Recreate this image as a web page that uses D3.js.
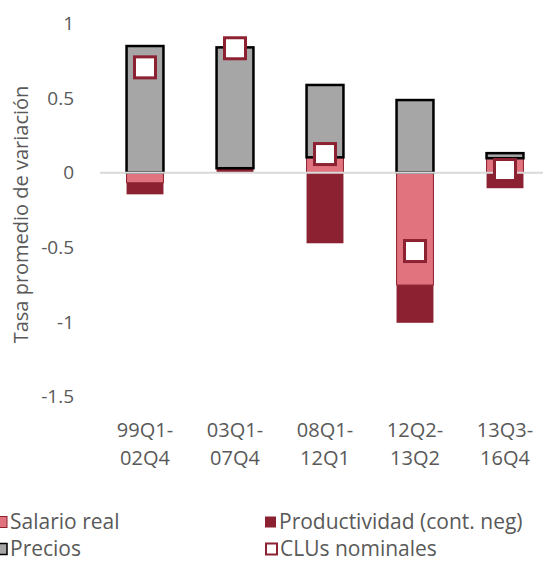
<!DOCTYPE html>
<html><head><meta charset="utf-8">
<script src="https://cdn.jsdelivr.net/npm/d3@7"></script>
<style>body{margin:0;background:#fff}svg{display:block}text{font-family:"Open Sans","Noto Sans",sans-serif;fill:#595959}</style>
</head><body><svg id="c" width="543" height="568"></svg>
<script>
const categories = [["99Q1-","02Q4"],["03Q1-","07Q4"],["08Q1-","12Q1"],["12Q2-","13Q2"],["13Q3-","16Q4"]];
const salarioReal = [-0.067, 0.0, 0.103, -0.753, 0.097];
const productividad = [-0.078, 0.03, -0.473, -0.253, -0.104];
const precios = [0.849, 0.81, 0.485, 0.487, 0.034];
const clusNominales = [0.706, 0.834, 0.125, -0.525, 0.018];
const yTicks = [1, 0.5, 0, -0.5, -1, -1.5];
const yTitle = "Tasa promedio de variación";
const legendItems = ["Salario real", "Productividad (cont. neg)", "Precios", "CLUs nominales"];

const C = {pink:"#E0737D", dark:"#8C2231", grey:"#A6A6A6"};
const svg = d3.select("#c");
const keys = ["salario","productividad","precios"];
const rows = categories.map((c,i)=>({cat:c.join(""), salario:salarioReal[i], productividad:productividad[i], precios:precios[i]}));
const x = d3.scaleBand().domain(rows.map(r=>r.cat)).range([100,550]).paddingInner(0.59).paddingOuter(0.295);
const y = d3.scaleLinear().domain([-1.5,1]).range([396.5,23.5]);
const stack = d3.stack().keys(keys).offset(d3.stackOffsetDiverging)(rows);

// y tick labels
svg.append("g").selectAll("text").data(yTicks).join("text")
  .attr("x",74).attr("y",d=>y(d)).attr("dy","0.35em").attr("text-anchor","end")
  .style("font-size","19px").text(d=>d);
// y title
svg.append("text").attr("transform",`translate(21,${y(-0.28)}) rotate(-90)`)
  .attr("text-anchor","middle").attr("dy","0.35em").style("font-size","20px").text(yTitle);

const style = {
  salario:{fill:C.pink, stroke:C.dark, sw:1},
  productividad:{fill:C.dark, stroke:"none", sw:0},
  precios:{fill:C.grey, stroke:"#000", sw:2.5}
};
const order = ["productividad","salario","precios"];
order.forEach(k=>{
  const s = stack.find(d=>d.key===k);
  svg.append("g").selectAll("rect").data(s.filter(d=>Math.abs(d[1]-d[0])>1e-9)).join("rect")
    .attr("x",d=>x(d.data.cat)).attr("width",x.bandwidth())
    .attr("y",d=>y(d[1])).attr("height",d=>y(d[0])-y(d[1]))
    .attr("fill",style[k].fill).attr("stroke",style[k].stroke).attr("stroke-width",style[k].sw);
});
// zero line
svg.append("line").attr("x1",100).attr("x2",543).attr("y1",y(0)).attr("y2",y(0))
  .attr("stroke","#D9D9D9").attr("stroke-width",2);
// CLU markers
const sz = 21;
svg.append("g").selectAll("rect").data(clusNominales).join("rect")
  .attr("x",(d,i)=>x(rows[i].cat)+x.bandwidth()/2-sz/2).attr("y",d=>y(d)-sz/2)
  .attr("width",sz).attr("height",sz).attr("fill","#fff").attr("stroke",C.dark).attr("stroke-width",3);
// category labels
const cl = svg.append("g").selectAll("text").data(rows).join("text")
  .attr("x",d=>x(d.cat)+x.bandwidth()/2).attr("text-anchor","middle").style("font-size","20px");
cl.append("tspan").attr("x",d=>x(d.cat)+x.bandwidth()/2).attr("y",437).text((d,i)=>categories[i][0]);
cl.append("tspan").attr("x",d=>x(d.cat)+x.bandwidth()/2).attr("y",465).text((d,i)=>categories[i][1]);

// legend
const leg = [
  {t:legendItems[0], x:-4, y:522, fill:C.pink, stroke:C.dark, sw:1},
  {t:legendItems[1], x:265, y:522, fill:C.dark, stroke:"none", sw:0},
  {t:legendItems[2], x:-4, y:549, fill:C.grey, stroke:"#000", sw:1.5},
  {t:legendItems[3], x:266, y:549, fill:"#fff", stroke:C.dark, sw:2}
];
const lg = svg.append("g").selectAll("g").data(leg).join("g");
lg.append("rect").attr("x",d=>d.x).attr("y",d=>d.y-5.5).attr("width",11).attr("height",11)
  .attr("fill",d=>d.fill).attr("stroke",d=>d.stroke).attr("stroke-width",d=>d.sw);
lg.append("text").attr("x",d=>d.x+14).attr("y",d=>d.y).attr("dy","0.35em").style("font-size","21px").text(d=>d.t);
</script></body></html>
